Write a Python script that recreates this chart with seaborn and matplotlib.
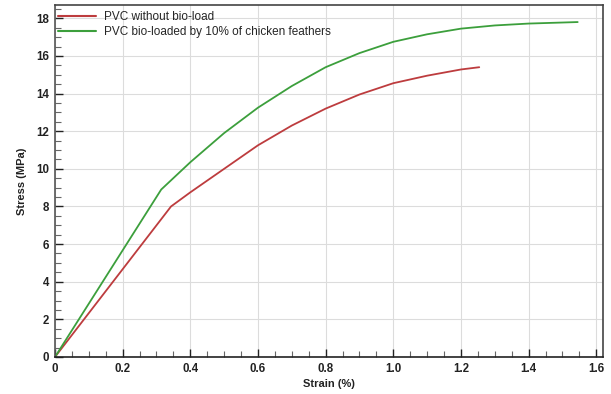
import matplotlib
matplotlib.use("Agg")
import matplotlib.pyplot as plt
from matplotlib.ticker import MultipleLocator
import pandas as pd
import seaborn as sns

# Stress-strain curves (strain in %, stress in MPa)
strain_plain = [0.0, 0.343, 0.4, 0.5, 0.6, 0.7, 0.8, 0.9, 1.0, 1.1, 1.2, 1.254]
stress_plain = [0.0, 8.0, 8.75, 10.0, 11.25, 12.3, 13.2, 13.95, 14.55, 14.95, 15.28, 15.4]

strain_feather = [0.0, 0.314, 0.4, 0.5, 0.6, 0.7, 0.8, 0.9, 1.0, 1.1, 1.2, 1.3, 1.4, 1.545]
stress_feather = [0.0, 8.9, 10.35, 11.9, 13.25, 14.4, 15.4, 16.15, 16.75, 17.15, 17.45, 17.62, 17.72, 17.8]

series_labels = ["PVC without bio-load", "PVC bio-loaded by 10% of chicken feathers"]
series_colors = ["#bd3c3e", "#3c9f3c"]

x_ticks = [0, 0.2, 0.4, 0.6, 0.8, 1.0, 1.2, 1.4, 1.6]
x_tick_labels = ["0", "0.2", "0.4", "0.6", "0.8", "1.0", "1.2", "1.4", "1.6"]
y_ticks = [0, 2, 4, 6, 8, 10, 12, 14, 16, 18]

sns.set_theme(style="white")
plt.rcParams["font.family"] = ["Liberation Sans", "DejaVu Sans"]

df = pd.concat([
    pd.DataFrame({"strain": strain_plain, "stress": stress_plain, "series": series_labels[0]}),
    pd.DataFrame({"strain": strain_feather, "stress": stress_feather, "series": series_labels[1]}),
], ignore_index=True)

fig = plt.figure(figsize=(6.11, 3.94), dpi=100)
ax = fig.add_axes([0.090, 0.094, 0.897, 0.893])

sns.lineplot(data=df, x="strain", y="stress", hue="series", palette=series_colors,
             sort=False, estimator=None, linewidth=1.3, ax=ax)

ax.set_xlim(0, 1.62)
ax.set_ylim(0, 18.7)
ax.set_xticks(x_ticks)
ax.set_xticklabels(x_tick_labels)
ax.set_yticks(y_ticks)
ax.xaxis.set_minor_locator(MultipleLocator(0.05))
ax.yaxis.set_minor_locator(MultipleLocator(0.5))

ax.grid(True, which="major", color="#dcdcdc", linewidth=0.8)
ax.set_axisbelow(True)

ax.tick_params(axis="both", which="major", direction="in", length=6, width=1,
               color="#222222", labelsize=8.3, pad=4, bottom=True, left=True)
ax.tick_params(axis="both", which="minor", direction="in", length=4, width=0.8,
               color="#666666", bottom=True, left=True)
ax.tick_params(axis="x", which="both", top=False)
ax.tick_params(axis="y", which="both", right=False)
for lab in ax.get_xticklabels() + ax.get_yticklabels():
    lab.set_fontweight("bold")
    lab.set_color("#222222")

for side in ["left", "bottom", "right", "top"]:
    ax.spines[side].set_visible(True)
    ax.spines[side].set_linewidth(1.2)
ax.spines["bottom"].set_color("#222222")
ax.spines["left"].set_color("#555555")
ax.spines["right"].set_color("#444444")
ax.spines["top"].set_color("#444444")

ax.set_xlabel("Strain (%)", fontsize=8, fontweight="bold", color="#222222", labelpad=3)
ax.set_ylabel("Stress (MPa)", fontsize=8, fontweight="bold", color="#222222", labelpad=7)

leg = ax.legend(loc="upper left", frameon=False, fontsize=8.5, handlelength=3.3,
                handletextpad=0.6, borderaxespad=0.0, labelspacing=0.25,
                bbox_to_anchor=(-0.004, 0.997))
for line in leg.get_lines():
    line.set_linewidth(1.5)

fig.savefig("out.png", dpi=100)
